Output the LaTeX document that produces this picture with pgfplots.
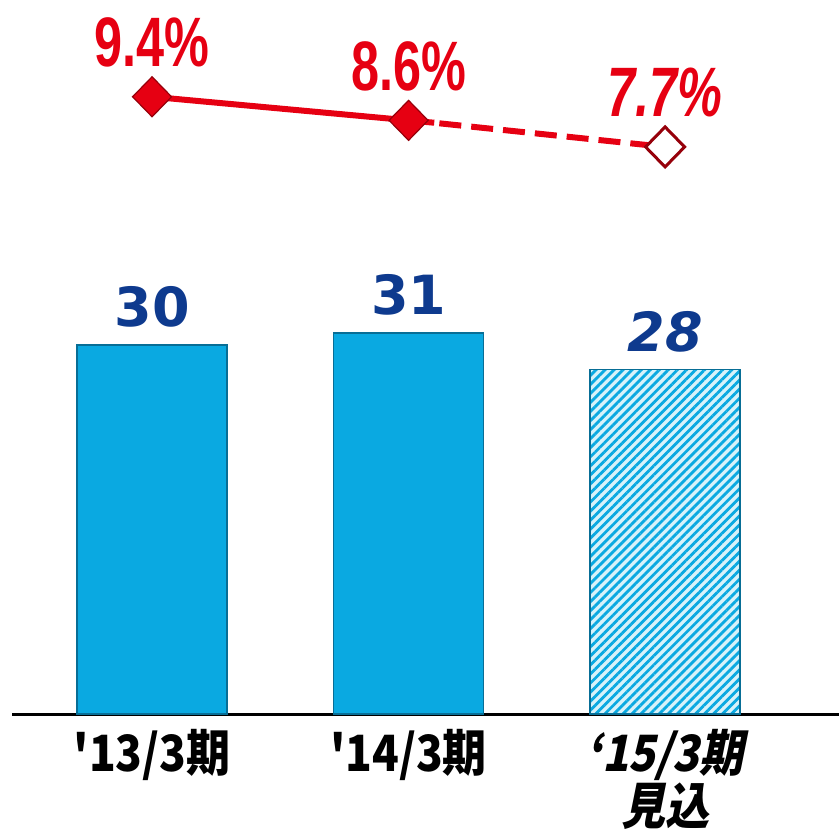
\documentclass[border=0pt]{standalone}
\usepackage{fontspec}
\usepackage{pgfplots}
\pgfplotsset{compat=1.18}
\usetikzlibrary{patterns.meta}
\setmainfont{DejaVu Sans}
\newfontfamily\pctfont[FakeStretch=0.72]{Liberation Sans}
\newfontfamily\cjk[FakeStretch=0.88]{Noto Sans CJK JP}
\newfontfamily\cjksl[FakeStretch=0.88,FakeSlant=0.2]{Noto Sans CJK JP}
\definecolor{barblue}{RGB}{10,169,225}
\definecolor{bardark}{RGB}{8,110,150}
\definecolor{hatchbg}{RGB}{215,242,250}
\definecolor{numblue}{RGB}{14,58,142}
\definecolor{pred}{RGB}{230,0,18}
\definecolor{pdark}{RGB}{150,0,10}
\begin{document}
\begin{tikzpicture}
\begin{axis}[
  width=413.5pt, height=357pt, scale only axis,
  xmin=-0.546, xmax=2.678, ymin=0, ymax=58.05,
  axis x line*=bottom, axis y line=none,
  x axis line style={line width=1.5pt, -},
  xtick={0,1,2},
  xticklabels={'13/3期,'14/3期,{{\cjksl ‘15/3期}\\{\cjksl 見込}}},
  major tick length=0pt,
  xticklabel style={font=\cjk\bfseries\fontsize{25}{21}\selectfont, align=center, anchor=north, yshift=-4pt, text=black},
  ybar, bar width=0.585, bar shift=0pt,
  clip=false,
  point meta=explicit symbolic,
  nodes near coords,
  nodes near coords style={anchor=center, yshift=19pt, font=\bfseries\fontsize{27}{27}\selectfont, text=numblue},
]
\addplot[fill=barblue, draw=bardark, line width=0.8pt] coordinates {(0,30) [30] (1,31) [31]};
\addplot[fill=hatchbg, draw=bardark, line width=0.8pt,
  postaction={pattern={Lines[angle=45,distance=3.2pt,line width=1.4pt]}, pattern color=barblue}]
  coordinates {(2,28) [\itshape 28]};
\end{axis}
\begin{axis}[
  width=413.5pt, height=357pt, scale only axis,
  xmin=-0.546, xmax=2.678, ymin=-11.52, ymax=12.68,
  hide axis, clip=false,
  point meta=explicit symbolic,
]
\addplot[pred, line width=3pt, mark=none] coordinates {(0,9.4) (1.1,8.52)};
\addplot[pred, line width=3pt, mark=none, dash pattern=on 11pt off 5pt] coordinates {(1.12,8.5) (2,7.7)};
\addplot[only marks, mark=diamond*, mark size=10pt, mark options={fill=pred, draw=pdark, line width=0.6pt, xscale=1.3},
  nodes near coords, nodes near coords style={anchor=center, xshift=0pt, yshift=27pt, font=\pctfont\bfseries\fontsize{35}{35}\selectfont, text=pred}]
  coordinates {(0,9.4) [9.4\%] (1,8.6) [8.6\%]};
\addplot[only marks, mark=diamond*, mark size=10pt, mark options={fill=white, draw=pdark, line width=1.5pt, xscale=1.3},
  nodes near coords, nodes near coords style={anchor=center, xshift=0pt, yshift=27pt, font=\pctfont\bfseries\itshape\fontsize{35}{35}\selectfont, text=pred}]
  coordinates {(2,7.7) [7.7\%]};
\end{axis}
\pgfresetboundingbox
\path (current axis.south west) ++(-6pt,-58pt) rectangle (current axis.north east);
\end{tikzpicture}
\end{document}
